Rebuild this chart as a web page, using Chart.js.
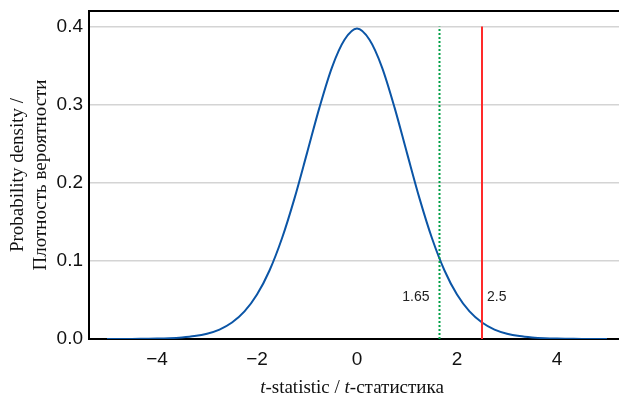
<!DOCTYPE html>
<html>
<head>
<meta charset="utf-8">
<script src="https://cdn.jsdelivr.net/npm/chart.js@4"></script>
<style>
  body { margin: 0; background: #fff; }
  #wrap { position: relative; width: 619px; height: 401px; }
  #xtitle {
    position: absolute; left: 202px; width: 300px; top: 377px;
    text-align: center; font: 19px/20px "Liberation Serif", "DejaVu Serif", serif; color: #111;
  }
</style>
</head>
<body>
<div id="wrap">
  <canvas id="chart" width="619" height="401"></canvas>
  <div id="xtitle"><i>t</i>-statistic / <i>t</i>-статистика</div>
</div>
<script>
// t-distribution density
const tValues = [-5, -4.75, -4.5, -4.25, -4, -3.75, -3.5, -3.25, -3, -2.75, -2.5, -2.25, -2, -1.75, -1.5, -1.25, -1, -0.75, -0.5, -0.25,
  0, 0.25, 0.5, 0.75, 1, 1.25, 1.5, 1.75, 2, 2.25, 2.5, 2.75, 3, 3.25, 3.5, 3.75, 4, 4.25, 4.5, 4.75, 5];
const density = [0.0000, 0.0001, 0.0001, 0.0003, 0.0005, 0.0010, 0.0020, 0.0037, 0.0068, 0.0121, 0.0211, 0.0353, 0.0569, 0.0877, 0.1290, 0.1801, 0.2380, 0.2966, 0.3479, 0.3831,
  0.3975, 0.3831, 0.3479, 0.2966, 0.2380, 0.1801, 0.1290, 0.0877, 0.0569, 0.0353, 0.0211, 0.0121, 0.0068, 0.0037, 0.0020, 0.0010, 0.0005, 0.0003, 0.0001, 0.0001, 0.0000];

// critical values marked with vertical lines
const markerValues = [1.65, 2.5];
const markerLabels = ['1.65', '2.5'];
const markerTop = 0.4;

const xTicks = [-4, -2, 0, 2, 4];
const yTicks = [0, 0.1, 0.2, 0.3, 0.4];

const tickFont = { family: "'Liberation Sans Narrow', 'Liberation Sans', Arial, sans-serif", size: 19 };

const curve = tValues.map((t, i) => ({ x: t, y: density[i] }));

// draws the top frame line and the marker labels
const extras = {
  id: 'extras',
  afterDraw(c) {
    const ctx = c.ctx, area = c.chartArea, xs = c.scales.x, ys = c.scales.y;
    ctx.save();
    ctx.strokeStyle = '#000';
    ctx.lineWidth = 2;
    ctx.beginPath();
    ctx.moveTo(area.left, area.top);
    ctx.lineTo(area.right, area.top);
    ctx.stroke();

    ctx.font = "14px 'Liberation Sans Narrow', 'Liberation Sans', Arial, sans-serif";
    ctx.fillStyle = '#222';
    ctx.textBaseline = 'middle';
    const ly = ys.getPixelForValue(0.054);
    ctx.textAlign = 'right';
    ctx.fillText(markerLabels[0], xs.getPixelForValue(markerValues[0]) - 10, ly);
    ctx.textAlign = 'left';
    ctx.fillText(markerLabels[1], xs.getPixelForValue(markerValues[1]) + 5, ly);
    ctx.restore();
  }
};

new Chart(document.getElementById('chart'), {
  type: 'line',
  data: {
    datasets: [
      {
        data: [{ x: markerValues[0], y: 0 }, { x: markerValues[0], y: markerTop }],
        borderColor: '#00a046',
        borderWidth: 2,
        borderDash: [2, 2],
        pointRadius: 0
      },
      {
        data: [{ x: markerValues[1], y: 0 }, { x: markerValues[1], y: markerTop }],
        borderColor: '#ff2a2a',
        borderWidth: 2,
        pointRadius: 0
      },
      {
        data: curve,
        borderColor: '#0b55a6',
        borderWidth: 2,
        pointRadius: 0,
        cubicInterpolationMode: 'monotone'
      }
    ]
  },
  options: {
    responsive: false,
    animation: false,
    layout: { padding: { top: 11, right: 0, left: 0, bottom: 0 } },
    plugins: { legend: { display: false }, tooltip: { enabled: false } },
    scales: {
      x: {
        type: 'linear',
        min: -5.36,
        max: 5.24,
        grid: { display: false, drawTicks: false },
        border: { color: '#000', width: 2 },
        afterBuildTicks: s => { s.ticks = xTicks.map(v => ({ value: v })); },
        afterFit: s => { s.height = 62; s.paddingLeft = 0; s.paddingRight = 0; },
        ticks: {
          font: tickFont,
          color: '#111',
          padding: 9,
          maxRotation: 0,
          callback: v => v < 0 ? '\u2212' + Math.abs(v) : String(v)
        }
      },
      y: {
        min: 0,
        max: 0.42,
        grid: { color: '#d4d4d4', lineWidth: 1.5, drawTicks: false },
        border: { color: '#000', width: 2 },
        afterBuildTicks: s => { s.ticks = yTicks.map(v => ({ value: v })); },
        afterFit: s => { s.width = 89; s.paddingTop = 0; s.paddingBottom = 0; },
        ticks: {
          font: tickFont,
          color: '#111',
          padding: 6,
          callback: v => v.toFixed(1)
        },
        title: {
          display: true,
          text: ['Probability density /', 'Плотность вероятности'],
          font: { family: "'Liberation Serif', 'DejaVu Serif', serif", size: 19, lineHeight: 1.2 },
          color: '#111',
          padding: { top: 7, bottom: 0 }
        }
      }
    }
  },
  plugins: [extras]
});
</script>
</body>
</html>
